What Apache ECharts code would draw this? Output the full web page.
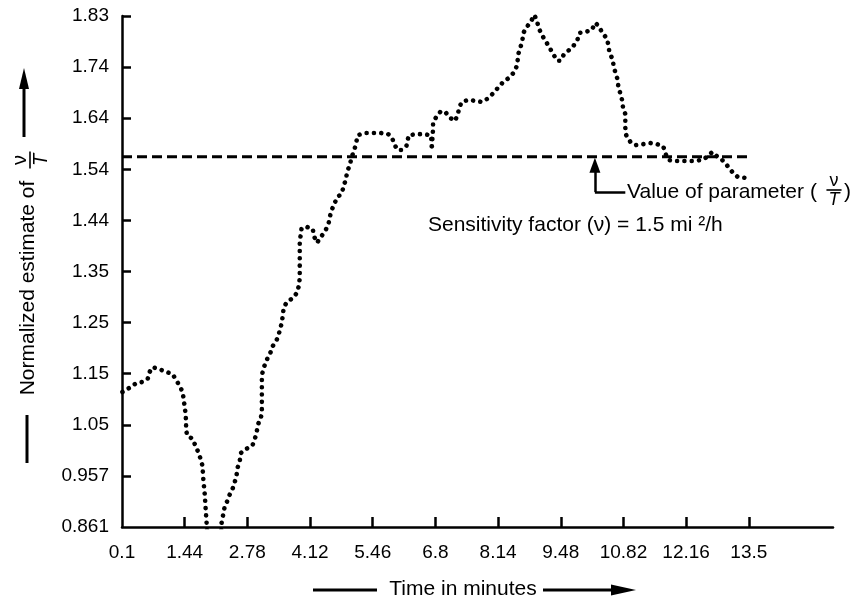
<!DOCTYPE html>
<html>
<head>
<meta charset="utf-8">
<script src="https://cdn.jsdelivr.net/npm/echarts@6/dist/echarts.min.js"></script>
<style>
  html, body { margin: 0; padding: 0; background: #fff; }
  #chart { width: 855px; height: 602px; }
</style>
</head>
<body>
<div id="chart"></div>
<script>
// Running estimate of v/T over time (minutes)
const timeMin = [
  0.11, 0.26, 0.41, 0.54, 0.65, 0.69, 0.75, 0.88, 1.05, 1.18,
  1.27, 1.35, 1.40, 1.42, 1.44, 1.46, 1.47, 1.47, 1.49, 1.61,
  1.67, 1.74, 1.78, 1.82, 1.83, 1.84, 1.87, 1.89, 1.91, 1.93,
  2.06, 2.21, 2.23, 2.29, 2.34, 2.40, 2.47, 2.51, 2.55, 2.57,
  2.62, 2.64, 2.72, 2.83, 2.89, 2.94, 2.98, 3.00, 3.07, 3.09,
  3.09, 3.13, 3.17, 3.22, 3.28, 3.32, 3.39, 3.44, 3.48, 3.52,
  3.54, 3.56, 3.63, 3.75, 3.84, 3.88, 3.90, 3.90, 3.92, 3.94,
  4.05, 4.18, 4.20, 4.27, 4.35, 4.43, 4.51, 4.57, 4.64, 4.69,
  4.80, 4.84, 4.89, 4.91, 4.97, 5.01, 5.06, 5.10, 5.14, 5.29,
  5.48, 5.64, 5.79, 5.87, 5.92, 5.99, 6.07, 6.18, 6.23, 6.40,
  6.55, 6.70, 6.72, 6.72, 6.75, 6.75, 6.83, 6.92, 7.03, 7.11,
  7.22, 7.28, 7.31, 7.36, 7.51, 7.65, 7.80, 7.93, 8.04, 8.13,
  8.25, 8.36, 8.47, 8.53, 8.56, 8.58, 8.62, 8.66, 8.68, 8.77,
  8.85, 8.92, 8.98, 9.03, 9.09, 9.18, 9.26, 9.33, 9.41, 9.47,
  9.54, 9.64, 9.75, 9.84, 9.88, 10.01, 10.14, 10.22, 10.29, 10.37,
  10.46, 10.50, 10.52, 10.59, 10.61, 10.65, 10.69, 10.71, 10.75, 10.79,
  10.81, 10.86, 10.86, 10.88, 10.97, 11.07, 11.24, 11.40, 11.54, 11.67,
  11.74, 11.78, 11.89, 12.04, 12.18, 12.31, 12.50, 12.61, 12.72, 12.83,
  12.93, 13.04, 13.15, 13.26, 13.43
];
const estimate = [
  1.117, 1.125, 1.134, 1.136, 1.142, 1.155, 1.164, 1.161, 1.155, 1.151,
  1.138, 1.126, 1.115, 1.102, 1.089, 1.075, 1.060, 1.047, 1.035, 1.028,
  1.015, 1.001, 0.990, 0.977, 0.963, 0.950, 0.922, 0.893, 0.867, 0.836,
  0.827, 0.836, 0.869, 0.897, 0.908, 0.922, 0.935, 0.946, 0.960, 0.973,
  0.988, 1.001, 1.007, 1.013, 1.016, 1.028, 1.041, 1.054, 1.068, 1.081,
  1.149, 1.163, 1.172, 1.183, 1.193, 1.204, 1.212, 1.223, 1.236, 1.250,
  1.265, 1.278, 1.288, 1.295, 1.305, 1.318, 1.333, 1.401, 1.415, 1.428,
  1.430, 1.426, 1.413, 1.400, 1.411, 1.420, 1.434, 1.460, 1.473, 1.485,
  1.494, 1.508, 1.521, 1.534, 1.547, 1.563, 1.574, 1.587, 1.604, 1.608,
  1.608, 1.608, 1.606, 1.600, 1.587, 1.576, 1.576, 1.583, 1.604, 1.606,
  1.606, 1.604, 1.591, 1.576, 1.616, 1.629, 1.640, 1.650, 1.646, 1.637,
  1.631, 1.644, 1.656, 1.667, 1.671, 1.669, 1.667, 1.674, 1.684, 1.693,
  1.705, 1.712, 1.722, 1.733, 1.747, 1.760, 1.771, 1.784, 1.798, 1.811,
  1.821, 1.832, 1.817, 1.803, 1.792, 1.779, 1.767, 1.756, 1.745, 1.745,
  1.756, 1.764, 1.773, 1.786, 1.798, 1.800, 1.803, 1.817, 1.811, 1.798,
  1.788, 1.775, 1.760, 1.748, 1.735, 1.722, 1.711, 1.697, 1.684, 1.671,
  1.657, 1.644, 1.618, 1.604, 1.591, 1.585, 1.587, 1.589, 1.587, 1.583,
  1.564, 1.557, 1.555, 1.555, 1.555, 1.555, 1.557, 1.563, 1.572, 1.563,
  1.557, 1.546, 1.534, 1.525, 1.523
];

// True parameter value and the time span it is drawn across
const paramValue = 1.563;
const paramSpan = [0.1, 13.5];

// Pointer to the parameter line: foot, tip and the elbow toward the caption
const pointerTime = 10.21;
const pointerFoot = 1.496;
const pointerTip = 1.547;
const pointerElbowEnd = 10.86;

// Axis ticks
const xTickValues = [0.1, 1.44, 2.78, 4.12, 5.46, 6.8, 8.14, 9.48, 10.82, 12.16, 13.5];
const xTickLabels = ['0.1', '1.44', '2.78', '4.12', '5.46', '6.8', '8.14', '9.48', '10.82', '12.16', '13.5'];
const yTickValues = [0.861, 0.9579, 1.0548, 1.1517, 1.2486, 1.3455, 1.4424, 1.5393, 1.6362, 1.7331, 1.83];
const yTickLabels = ['0.861', '0.957', '1.05', '1.15', '1.25', '1.35', '1.44', '1.54', '1.64', '1.74', '1.83'];

const FONT = '"Liberation Sans", Arial, Helvetica, sans-serif';

function labelFor(values, labels) {
  return function (v) {
    const i = values.findIndex(t => Math.abs(t - v) < 1e-6);
    return i >= 0 ? labels[i] : '';
  };
}

// Stacked "v over T" fraction as a graphic group
function fraction(x, y, rotation, size) {
  return {
    type: 'group', x: x, y: y, rotation: rotation,
    children: [
      { type: 'text', x: 0, y: -size * 0.5,
        style: { text: 'ν', fontSize: size, fontFamily: FONT, fill: '#000', align: 'center', verticalAlign: 'middle' } },
      { type: 'line', shape: { x1: -size * 0.42, y1: 0, x2: size * 0.42, y2: 0 },
        style: { stroke: '#000', lineWidth: 1.6 } },
      { type: 'text', x: 0, y: size * 0.55,
        style: { text: 'T', fontSize: size, fontStyle: 'italic', fontFamily: FONT, fill: '#000', align: 'center', verticalAlign: 'middle' } }
    ]
  };
}

const chart = echarts.init(document.getElementById('chart'), null, { renderer: 'canvas' });

const option = {
  backgroundColor: '#fff',
  animation: false,
  grid: { left: 122, right: 22, top: 16, bottom: 75, containLabel: false, outerBoundsMode: 'none' },
  xAxis: {
    type: 'value',
    min: 0.1,
    max: 15.3,
    splitLine: { show: false },
    axisLine: { show: true, lineStyle: { color: '#000', width: 2.5 } },
    axisTick: { show: true, inside: true, length: 10, customValues: xTickValues.slice(1), lineStyle: { color: '#000', width: 2.5 } },
    axisLabel: {
      customValues: xTickValues,
      formatter: labelFor(xTickValues, xTickLabels),
      color: '#000', fontSize: 19, fontFamily: FONT, margin: 16,
      showMinLabel: true, showMaxLabel: true
    }
  },
  yAxis: {
    type: 'value',
    min: 0.861,
    max: 1.83,
    splitLine: { show: false },
    axisLine: { show: true, lineStyle: { color: '#000', width: 2.5 } },
    axisTick: { show: true, inside: true, length: 9, customValues: yTickValues.slice(1), lineStyle: { color: '#000', width: 2.5 } },
    axisLabel: {
      customValues: yTickValues,
      formatter: labelFor(yTickValues, yTickLabels),
      color: '#000', fontSize: 19, fontFamily: FONT, margin: 13,
      showMinLabel: true, showMaxLabel: true
    }
  },
  series: [
    {
      name: 'estimate',
      type: 'line',
      data: timeMin.map((t, i) => [t, estimate[i]]),
      showSymbol: false,
      symbol: 'none',
      clip: true,
      lineStyle: { color: '#000', width: 4.6, type: [0.01, 7.3], cap: 'round', join: 'round' },
      z: 3
    },
    {
      name: 'parameter',
      type: 'line',
      data: [[paramSpan[0], paramValue], [paramSpan[1], paramValue]],
      showSymbol: false,
      symbol: 'none',
      lineStyle: { color: '#000', width: 3, type: [10, 5], cap: 'butt' },
      z: 2,
      markLine: {
        silent: true,
        animation: false,
        label: { show: false },
        lineStyle: { color: '#000', width: 2.5, type: 'solid' },
        data: [
          [
            { coord: [pointerTime, pointerFoot], symbol: 'none' },
            { coord: [pointerTime, pointerTip], symbol: 'triangle', symbolSize: [11, 15] }
          ],
          [
            { coord: [pointerTime, pointerFoot], symbol: 'none' },
            { coord: [pointerElbowEnd, pointerFoot], symbol: 'none' }
          ]
        ]
      }
    }
  ],
  graphic: [
    // vertical axis title
    { type: 'line', shape: { x1: 27, y1: 415, x2: 27, y2: 463 }, style: { stroke: '#000', lineWidth: 3 } },
    { type: 'text', x: 28, y: 288, rotation: Math.PI / 2,
      style: { text: 'Normalized estimate of', fontSize: 21, fontFamily: FONT, fill: '#000', align: 'center', verticalAlign: 'middle' } },
    fraction(30, 160, Math.PI / 2, 20),
    { type: 'line', shape: { x1: 24, y1: 137, x2: 24, y2: 85 }, style: { stroke: '#000', lineWidth: 3 } },
    { type: 'polygon', shape: { points: [[24, 68], [19, 89], [29, 89]] }, style: { fill: '#000' } },

    // horizontal axis title
    { type: 'line', shape: { x1: 313, y1: 590, x2: 377, y2: 590 }, style: { stroke: '#000', lineWidth: 3 } },
    { type: 'text', x: 463, y: 589,
      style: { text: 'Time in minutes', fontSize: 21, fontFamily: FONT, fill: '#000', align: 'center', verticalAlign: 'middle' } },
    { type: 'line', shape: { x1: 543, y1: 590, x2: 615, y2: 590 }, style: { stroke: '#000', lineWidth: 3 } },
    { type: 'polygon', shape: { points: [[636, 590], [611, 584.5], [611, 595.5]] }, style: { fill: '#000' } },

    // captions
    { type: 'text', x: 627, y: 192,
      style: { text: 'Value of parameter (', fontSize: 21, fontFamily: FONT, fill: '#000', align: 'left', verticalAlign: 'middle' } },
    fraction(834, 190, 0, 18),
    { type: 'text', x: 844, y: 192,
      style: { text: ')', fontSize: 21, fontFamily: FONT, fill: '#000', align: 'left', verticalAlign: 'middle' } },
    { type: 'text', x: 428, y: 225,
      style: { text: 'Sensitivity factor (ν) = 1.5 mi ²/h', fontSize: 21, fontFamily: FONT, fill: '#000', align: 'left', verticalAlign: 'middle' } }
  ]
};

chart.setOption(option);
</script>
</body>
</html>
